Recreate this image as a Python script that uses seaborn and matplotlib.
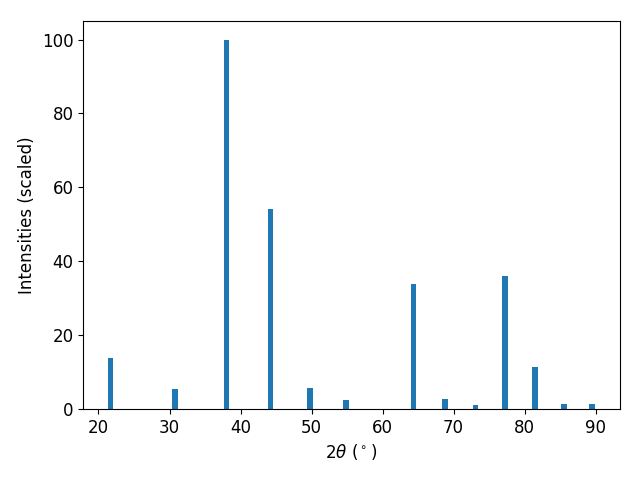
import numpy as np
import pandas as pd
import matplotlib
matplotlib.use("Agg")
import matplotlib.pyplot as plt
import seaborn as sns

two_theta = [21.68, 30.82, 38.02, 44.23, 49.74, 54.88, 64.34, 68.79, 73.09, 77.25, 81.42, 85.51, 89.53]
intensity = [13.9, 5.4, 100.0, 54.1, 5.7, 2.4, 33.8, 2.7, 1.1, 36.1, 11.4, 1.4, 1.4]

df = pd.DataFrame({"two_theta": two_theta, "intensity": intensity})

plt.rcParams.update({"font.size": 12})
fig, ax = plt.subplots(figsize=(6.4, 4.8), dpi=100)

min_gap = np.min(np.diff(np.sort(df["two_theta"].values)))
sns.barplot(data=df, x="two_theta", y="intensity", native_scale=True,
            width=0.8 / min_gap, color="#1f77b4", saturation=1,
            errorbar=None, linewidth=0, ax=ax)

ax.set_xlabel(r"$2\theta$ ($^\circ$)")
ax.set_ylabel("Intensities (scaled)")
ax.margins(x=0.05, y=0.05)
ax.set_ylim(0, 105)
ax.set_xticks([20, 30, 40, 50, 60, 70, 80, 90])
fig.subplots_adjust(left=0.130, right=0.968, bottom=0.148, top=0.956)
fig.savefig("out.png", dpi=100)
